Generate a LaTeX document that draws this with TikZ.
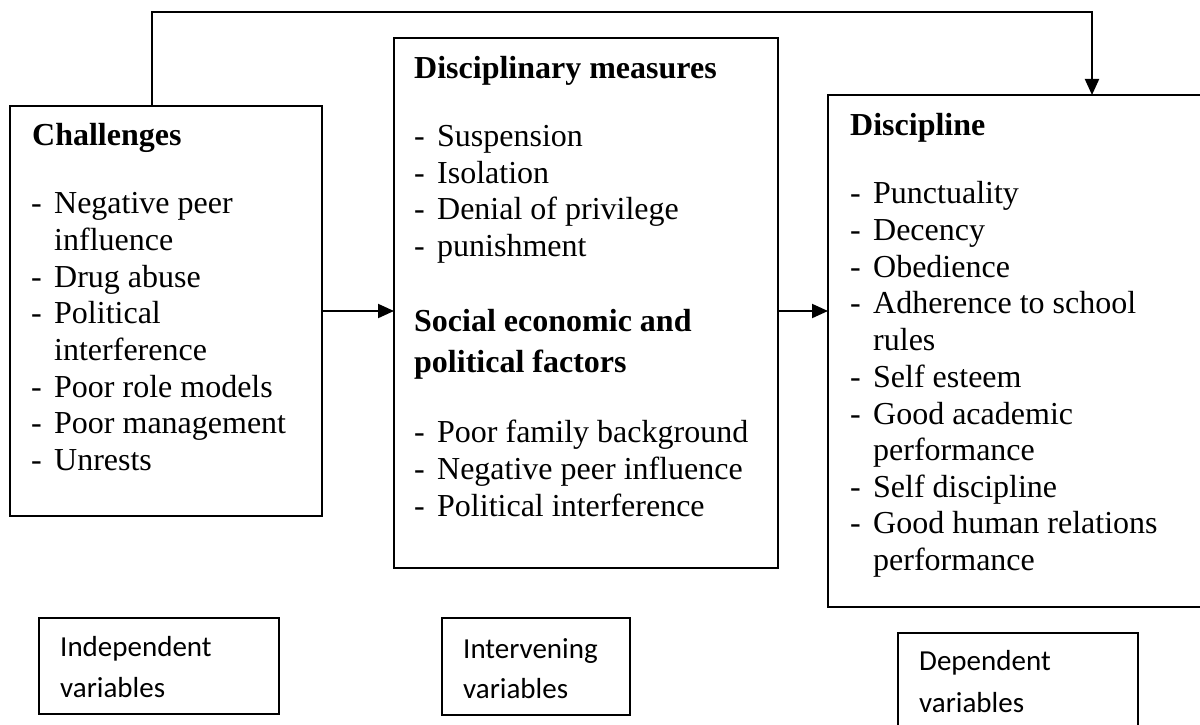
\documentclass[tikz,border=0pt]{standalone}
\usepackage{fontspec}
\setmainfont{Liberation Serif}
\newfontfamily\calfont{Carlito}
\usetikzlibrary{arrows.meta}
\newcommand{\itemdash}{\makebox[23pt][l]{-}}
\newcommand{\itemgap}{\hspace*{23pt}}
\begin{document}
\begin{tikzpicture}[x=1pt,y=-1pt,
  box/.style={draw,line width=2pt,inner sep=0pt,outer sep=0pt,anchor=north west},
  lbl/.style={draw,line width=1.5pt,inner sep=0pt,outer sep=0pt,anchor=north west},
  txt/.style={anchor=base west,inner sep=0pt,font=\fontsize{32}{36}\selectfont},
  hd/.style={anchor=base west,inner sep=0pt,font=\fontsize{32}{36}\selectfont\bfseries},
  cal/.style={anchor=base west,inner sep=0pt,font=\calfont\fontsize{29}{34}\selectfont},
  arr/.style={line width=2pt,-{Triangle[length=16pt,width=14pt]}}]
\useasboundingbox (0,0) rectangle (1200,725);
\clip (0,0) rectangle (1200,725);

% frames
\node[box,minimum width=312pt,minimum height=410pt] (chal) at (10,106) {};
\node[box,minimum width=384pt,minimum height=530pt] (mid) at (394,38) {};
\node[box,minimum width=374pt,minimum height=512pt] (disc) at (828,95) {};
\node[lbl,minimum width=240pt,minimum height=96pt] (ind) at (39,618) {};
\node[lbl,minimum width=188pt,minimum height=97pt] (intv) at (442,618) {};
\node[lbl,minimum width=240pt,minimum height=130pt] (dep) at (898,633) {};

% connectors
\draw[arr] (chal.east) -- (chal.east -| mid.west);
\draw[arr] (chal.east -| mid.east) -- (chal.east -| disc.west);
\draw[arr] ([xshift=142pt]chal.north west) |- ([xshift=264pt]disc.north west |- 0,12)
  -- ([xshift=264pt]disc.north west);

% Challenges
\node[hd] (chh) at (32,145) {Challenges};
\foreach \yy/\tx [count=\i] in {213/{\itemdash Negative peer},250/{\itemgap influence},
  287/{\itemdash Drug abuse},323/{\itemdash Political},360/{\itemgap interference},
  397/{\itemdash Poor role models},433/{\itemdash Poor management},470/{\itemdash Unrests}}
  \node[txt] (ch-\i) at (31,\yy) {\tx};

% Middle
\node[hd] (mh1) at (414,78) {Disciplinary measures};
\foreach \yy/\tx [count=\i] in {146/{\itemdash Suspension},183/{\itemdash Isolation},
  219/{\itemdash Denial of privilege},256/{\itemdash punishment}}
  \node[txt] (ma-\i) at (414,\yy) {\tx};
\node[hd] (mh2) at (414,331) {Social economic and};
\node[hd] (mh3) at (414,372) {political factors};
\foreach \yy/\tx [count=\i] in {442/{\itemdash Poor family background},
  479/{\itemdash Negative peer influence},516/{\itemdash Political interference}}
  \node[txt] (mb-\i) at (414,\yy) {\tx};

% Discipline
\node[hd] (dh) at (850,135) {Discipline};
\foreach \yy/\tx [count=\i] in {203/{\itemdash Punctuality},240/{\itemdash Decency},
  277/{\itemdash Obedience},313/{\itemdash Adherence to school},350/{\itemgap rules},
  387/{\itemdash Self esteem},424/{\itemdash Good academic},460/{\itemgap performance},
  497/{\itemdash Self discipline},533/{\itemdash Good human relations},570/{\itemgap performance}}
  \node[txt] (di-\i) at (850,\yy) {\tx};

% bottom labels
\node[cal] (ind1) at (60,656) {Independent};
\node[cal] (ind2) at (60,697) {variables};
\node[cal] (int1) at (463,658) {Intervening};
\node[cal] (int2) at (463,698) {variables};
\node[cal] (dep1) at (919,670) {Dependent};
\node[cal] (dep2) at (919,712) {variables};
\end{tikzpicture}
\end{document}
